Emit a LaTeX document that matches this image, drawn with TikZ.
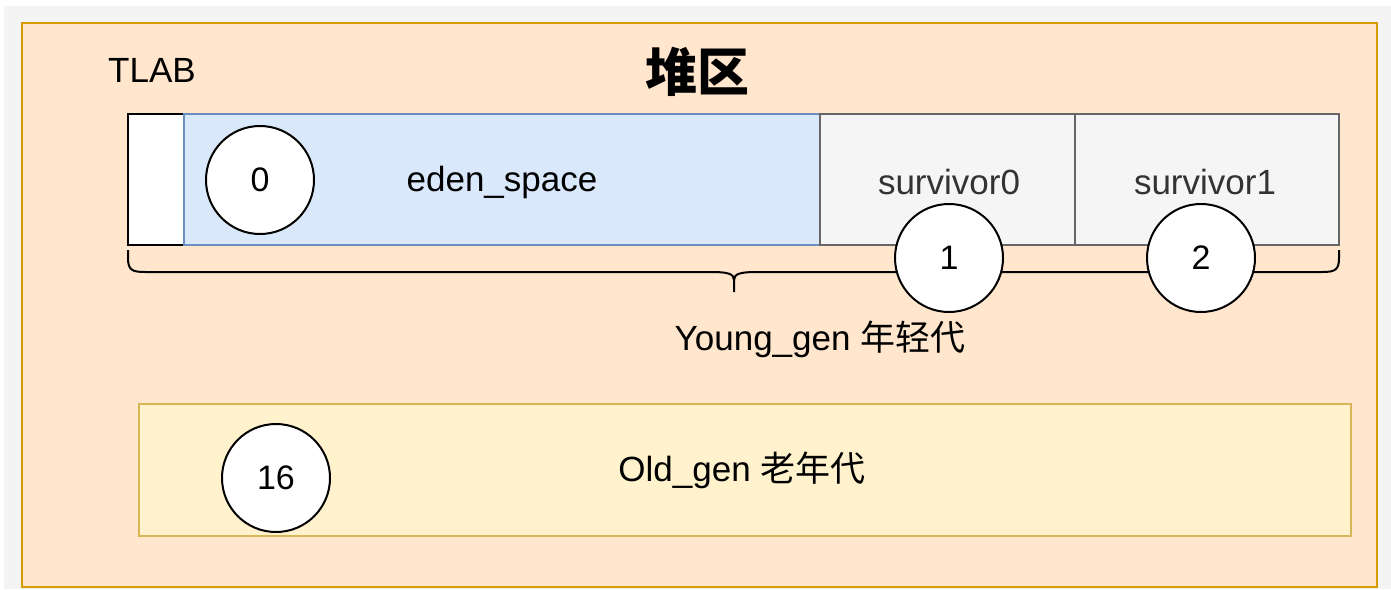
\documentclass[tikz,border=0pt]{standalone}
\usepackage{fontspec}
\setmainfont{Liberation Sans}
\newfontfamily\cjk{Noto Sans CJK SC}
\definecolor{pagebg}{HTML}{F4F4F4}
\definecolor{heapfill}{HTML}{FFE6CC}
\definecolor{heapline}{HTML}{D79B00}
\definecolor{edenfill}{HTML}{DAE8FC}
\definecolor{edenline}{HTML}{6C8EBF}
\definecolor{survfill}{HTML}{F5F5F5}
\definecolor{survline}{HTML}{666666}
\definecolor{survtext}{HTML}{333333}
\definecolor{oldfill}{HTML}{FFF2CC}
\definecolor{oldline}{HTML}{D6B656}
\tikzset{
  txt/.style={font=\fontsize{35}{41}\selectfont, inner sep=0pt},
  region/.style={draw, line width=2pt, inner sep=0pt, outer sep=0pt},
  numcircle/.style={circle, draw=black, fill=white, line width=2pt, minimum size=108pt, inner sep=0pt, font=\fontsize{34}{40}\selectfont},
  bracestyle/.style={draw=black, line width=2pt}
}
\begin{document}
\begin{tikzpicture}[x=1pt,y=-1pt]
\useasboundingbox (0,0) rectangle (1391,589);
\fill[white] (0,0) rectangle (1391,589);
\fill[pagebg] (4,6) rectangle (1391,589);
% heap
\draw[fill=heapfill, draw=heapline, line width=2.5pt] (22,23) rectangle (1377,587);
\node[font=\cjk\bfseries\fontsize{52}{60}\selectfont, inner sep=0pt] (title) at (697,72) {堆区};
\node[txt] (tlablabel) at (152,70) {TLAB};
% young gen boxes
\path[region, fill=white, draw=black] (128,114) rectangle (184,245);
\coordinate (tlab) at (156,180);
\path[region, fill=edenfill, draw=edenline] (184,114) rectangle (820,245);
\node[txt] (eden) at (502,182) {eden\_space};
\path[region, fill=survfill, draw=survline] (820,114) rectangle (1075,245);
\node[txt, text=survtext] (s0) at (949,182) {survivor0};
\path[region, fill=survfill, draw=survline] (1075,114) rectangle (1339,245);
\node[txt, text=survtext] (s1) at (1205,182) {survivor1};
% brace
\coordinate (bl) at (128,250);
\coordinate (br) at (1339,250);
\coordinate (bt) at (734,292);
\draw[bracestyle] (bl) -- (128,258) .. controls (128,270) and (132,272) .. (145,272)
  -- (712,272) .. controls (728,272) and (734,274) .. (734,280) -- (bt);
\draw[bracestyle] (734,280) .. controls (734,274) and (740,272) .. (756,272)
  -- (1322,272) .. controls (1335,272) and (1339,270) .. (1339,258) -- (br);
\node[txt] (young) at (820,339) {Young\_gen {\cjk 年轻代}};
% circles
\node[numcircle] (c0) at (260,180) {0};
\node[numcircle] (c1) at (949,258) {1};
\node[numcircle] (c2) at (1201,258) {2};
% old gen
\path[region, fill=oldfill, draw=oldline] (139,404) rectangle (1351,536);
\node[txt] (old) at (742,470) {Old\_gen {\cjk 老年代}};
\node[numcircle] (c16) at (276,478) {16};
\end{tikzpicture}
\end{document}
